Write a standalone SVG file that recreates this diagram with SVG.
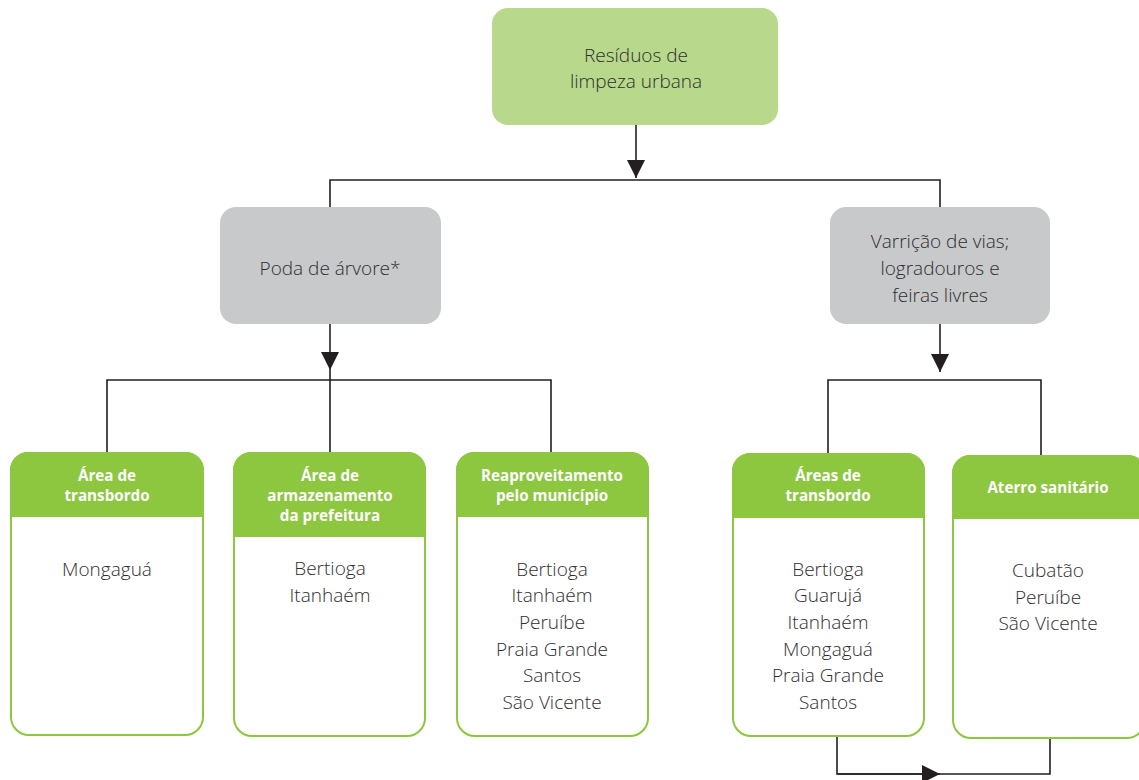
<svg xmlns="http://www.w3.org/2000/svg" width="1139" height="780" viewBox="0 0 1139 780">
<style>
.t{font-family:"Open Sans","Liberation Sans",sans-serif;font-size:19px;font-weight:300;fill:#2e2e2e;text-anchor:middle}
.h{font-family:"Open Sans","Liberation Sans",sans-serif;font-size:15.2px;font-weight:700;fill:#ffffff;text-anchor:middle}
.body{fill:#ffffff;stroke:#8dc63f;stroke-width:2}
.head{fill:#8dc63f}
.ln{fill:none;stroke:#231f20;stroke-width:1.6}
</style>
<defs>
<marker id="ad" viewBox="0 0 10 10" refX="10" refY="5" markerWidth="18" markerHeight="18" markerUnits="userSpaceOnUse" orient="auto">
<path d="M0,0 L10,5 L0,10 Z" fill="#231f20"/>
</marker>
</defs>
<g id="connectors">
<path class="ln" d="M636,125 V178" marker-end="url(#ad)"/>
<path class="ln" d="M330,207 V180 H940 V207"/>
<path class="ln" d="M330,324 V370" marker-end="url(#ad)"/>
<path class="ln" d="M107,452 V380 H551 V452 M330,370 V452"/>
<path class="ln" d="M940,324 V372" marker-end="url(#ad)"/>
<path class="ln" d="M828,453 V380 H1041 V455"/>
<path class="ln" d="M837,736 V774 H1050 V738"/>
<path class="ln" d="M837,774 H940" marker-end="url(#ad)"/>
</g>
<g id="n-root">
<rect x="492" y="8" width="286" height="117" rx="16" fill="#b8d98b"/>
<text class="t" x="636" y="62">Resíduos de</text>
<text class="t" x="636" y="88">limpeza urbana</text>
</g>
<g id="n-poda">
<rect x="220" y="207" width="221" height="117" rx="16" fill="#c8c9cb"/>
<text class="t" x="330" y="275">Poda de árvore*</text>
</g>
<g id="n-varricao">
<rect x="830" y="207" width="220" height="117" rx="16" fill="#c8c9cb"/>
<text class="t" x="940" y="248">Varrição de vias;</text>
<text class="t" x="940" y="275">logradouros e</text>
<text class="t" x="940" y="302">feiras livres</text>
</g>
<g id="n-transbordo1">
<rect class="body" x="11" y="453" width="192" height="282" rx="18"/>
<path class="head" d="M10,517 V470 A18,18 0 0 1 28,452 H186 A18,18 0 0 1 204,470 V517 Z"/>
<text class="h" x="107" y="481">Área de</text>
<text class="h" x="107" y="501">transbordo</text>
<text class="t" x="107" y="576">Mongaguá</text>
</g>
<g id="n-armazenamento">
<rect class="body" x="234" y="453" width="191" height="283" rx="18"/>
<path class="head" d="M233,537 V470 A18,18 0 0 1 251,452 H408 A18,18 0 0 1 426,470 V537 Z"/>
<text class="h" x="330" y="481">Área de</text>
<text class="h" x="330" y="501">armazenamento</text>
<text class="h" x="330" y="521">da prefeitura</text>
<text class="t" x="330" y="575">Bertioga</text>
<text class="t" x="330" y="602">Itanhaém</text>
</g>
<g id="n-reaproveitamento">
<rect class="body" x="457" y="453" width="191" height="283" rx="18"/>
<path class="head" d="M456,517 V470 A18,18 0 0 1 474,452 H631 A18,18 0 0 1 649,470 V517 Z"/>
<text class="h" x="552" y="481">Reaproveitamento</text>
<text class="h" x="552" y="501">pelo município</text>
<text class="t" x="552" y="576">Bertioga</text>
<text class="t" x="552" y="602">Itanhaém</text>
<text class="t" x="552" y="629">Peruíbe</text>
<text class="t" x="552" y="656">Praia Grande</text>
<text class="t" x="552" y="682">Santos</text>
<text class="t" x="552" y="709">São Vicente</text>
</g>
<g id="n-transbordo2">
<rect class="body" x="733" y="454" width="191" height="282" rx="18"/>
<path class="head" d="M732,518 V471 A18,18 0 0 1 750,453 H907 A18,18 0 0 1 925,471 V518 Z"/>
<text class="h" x="828" y="481">Áreas de</text>
<text class="h" x="828" y="501">transbordo</text>
<text class="t" x="828" y="576">Bertioga</text>
<text class="t" x="828" y="602">Guarujá</text>
<text class="t" x="828" y="629">Itanhaém</text>
<text class="t" x="828" y="656">Mongaguá</text>
<text class="t" x="828" y="682">Praia Grande</text>
<text class="t" x="828" y="709">Santos</text>
</g>
<g id="n-aterro">
<rect class="body" x="953" y="456" width="192" height="282" rx="18"/>
<path class="head" d="M952,519 V473 A18,18 0 0 1 970,455 H1128 A18,18 0 0 1 1146,473 V519 Z"/>
<text class="h" x="1048" y="493">Aterro sanitário</text>
<text class="t" x="1048" y="577">Cubatão</text>
<text class="t" x="1048" y="604">Peruíbe</text>
<text class="t" x="1048" y="630">São Vicente</text>
</g>
</svg>
